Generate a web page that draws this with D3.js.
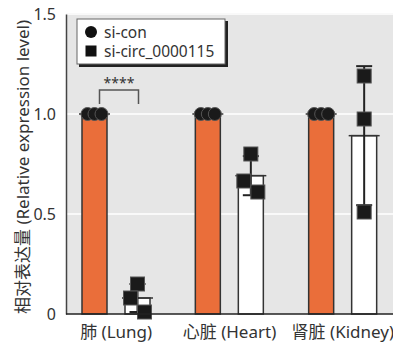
<!DOCTYPE html>
<html>
<head>
<meta charset="utf-8">
<script src="https://cdn.jsdelivr.net/npm/d3@7"></script>
<style>
  body { margin: 0; background: #fff; }
  text { font-family: "Noto Sans", "Noto Sans CJK SC", sans-serif; fill: #333; }
</style>
</head>
<body>
<div id="chart"></div>
<script>
var organs = ["肺 (Lung)", "心脏 (Heart)", "肾脏 (Kidney)"];
var series = ["si-con", "si-circ_0000115"];
var conValues = [[1, 1, 1], [1, 1, 1], [1, 1, 1]];
var circValues = [[0.15, 0.08, 0.01], [0.80, 0.665, 0.61], [1.19, 0.975, 0.51]];
var yTicks = [0, 0.5, 1.0, 1.5];
var sigLabel = "****";

var W = 393, H = 348;
var margin = { top: 14, right: 0, bottom: 34, left: 66 };

var svg = d3.select("#chart")
  .append("svg")
  .attr("width", W)
  .attr("height", H);

var y = d3.scaleLinear().domain([0, 1.5]).range([H - margin.bottom, margin.top]);
var x0 = d3.scaleBand().domain(organs).range([59.5, 399.5]);
var x1 = d3.scalePoint().domain(series).range([35, 78]);
var barW = 25;

// gray panel
svg.append("rect")
  .attr("x", margin.left)
  .attr("y", y(1.5) - 1)
  .attr("width", W - margin.left)
  .attr("height", y(0) - y(1.5) + 1)
  .attr("fill", "#e6e6e6");

// white gridlines
svg.selectAll(".grid")
  .data(yTicks.filter(d => d > 0))
  .enter()
  .append("line")
  .attr("x1", margin.left)
  .attr("x2", W)
  .attr("y1", d => y(d))
  .attr("y2", d => y(d))
  .attr("stroke", "#fff")
  .attr("stroke-width", 1.5);

function mean(a) { return d3.mean(a); }
function sd(a) { return d3.deviation(a) || 0; }

var groups = organs.map(function (o, i) {
  return [
    { organ: o, s: series[0], vals: conValues[i] },
    { organ: o, s: series[1], vals: circValues[i] }
  ];
}).flat();

// bars
svg.selectAll(".bar")
  .data(groups)
  .enter()
  .append("rect")
  .attr("x", d => x0(d.organ) + x1(d.s) - barW / 2)
  .attr("y", d => y(mean(d.vals)))
  .attr("width", barW)
  .attr("height", d => y(0) - y(mean(d.vals)))
  .attr("fill", d => d.s === series[0] ? "#ea6e3a" : "#fff")
  .attr("stroke", "#333")
  .attr("stroke-width", 1.5);

// mean lines
svg.selectAll(".meanline")
  .data(groups)
  .enter()
  .append("line")
  .attr("x1", d => x0(d.organ) + x1(d.s) - barW / 2 - 3)
  .attr("x2", d => x0(d.organ) + x1(d.s) + barW / 2 + 3)
  .attr("y1", d => y(mean(d.vals)))
  .attr("y2", d => y(mean(d.vals)))
  .attr("stroke", "#333")
  .attr("stroke-width", 1.5);

// error bars (mean ± SD)
var eb = svg.selectAll(".err")
  .data(groups.filter(d => sd(d.vals) > 0))
  .enter()
  .append("g")
  .attr("transform", d => "translate(" + (x0(d.organ) + x1(d.s)) + ",0)");

eb.append("line")
  .attr("y1", d => y(mean(d.vals) - sd(d.vals)))
  .attr("y2", d => y(mean(d.vals) + sd(d.vals)))
  .attr("stroke", "#222")
  .attr("stroke-width", 2);

eb.selectAll(".cap")
  .data(d => [mean(d.vals) - sd(d.vals), mean(d.vals) + sd(d.vals)])
  .enter()
  .append("line")
  .attr("x1", -8)
  .attr("x2", 8)
  .attr("y1", v => y(v))
  .attr("y2", v => y(v))
  .attr("stroke", "#222")
  .attr("stroke-width", 2);

// points: spread sideways when they sit close together
var pts = [];
groups.forEach(function (d) {
  var order = d.vals.map((v, i) => i).sort((a, b) => d.vals[b] - d.vals[a]);
  var spread = y(d3.min(d.vals)) - y(d3.max(d.vals));
  var dodge = d.s === series[0] ? [-7, 0, 7] : [0, -7, 7];
  order.forEach(function (idx, k) {
    pts.push({
      organ: d.organ, s: d.s, v: d.vals[idx],
      dx: spread < 60 ? dodge[k] : 0
    });
  });
});

svg.selectAll(".circ")
  .data(pts.filter(p => p.s === series[0]))
  .enter()
  .append("circle")
  .attr("cx", p => x0(p.organ) + x1(p.s) + p.dx)
  .attr("cy", p => y(p.v))
  .attr("r", 6.5)
  .attr("fill", "#1a1a1a")
  .attr("stroke", "#555")
  .attr("stroke-width", 1);

svg.selectAll(".sq")
  .data(pts.filter(p => p.s === series[1]))
  .enter()
  .append("rect")
  .attr("x", p => x0(p.organ) + x1(p.s) + p.dx - 7)
  .attr("y", p => y(p.v) - 7)
  .attr("width", 14)
  .attr("height", 14)
  .attr("fill", "#1a1a1a")
  .attr("stroke", "#555")
  .attr("stroke-width", 1);

// axes
var yAxis = svg.append("g")
  .attr("transform", "translate(" + margin.left + ",0)")
  .call(d3.axisLeft(y).tickValues(yTicks).tickSize(0).tickPadding(10)
    .tickFormat(d => d === 0 ? "0" : d3.format(".1f")(d)));
yAxis.select(".domain").attr("stroke", "#444").attr("stroke-width", 1.5);
yAxis.selectAll("text").style("font-size", "16px").attr("fill", "#333");

svg.append("line")
  .attr("x1", margin.left)
  .attr("x2", W)
  .attr("y1", y(0))
  .attr("y2", y(0))
  .attr("stroke", "#222")
  .attr("stroke-width", 1.5);

svg.selectAll(".xlab")
  .data(organs)
  .enter()
  .append("text")
  .attr("x", d => x0(d) + x0.bandwidth() / 2)
  .attr("y", y(0) + 24)
  .attr("text-anchor", "middle")
  .style("font-size", "17px")
  .text(d => d);

svg.append("text")
  .attr("transform", "translate(29,167) rotate(-90)")
  .attr("text-anchor", "middle")
  .style("font-size", "17px")
  .text("相对表达量 (Relative expression level)");

// significance bracket
var bx1 = x0(organs[0]) + x1(series[0]) + 5;
var bx2 = x0(organs[0]) + x1(series[1]) + 1;
var by = y(1.12);
svg.append("path")
  .attr("d", "M" + bx1 + "," + (by + 14) + "V" + by + "H" + bx2 + "V" + (by + 14))
  .attr("fill", "none")
  .attr("stroke", "#555")
  .attr("stroke-width", 1.5);
svg.append("text")
  .attr("x", (bx1 + bx2) / 2)
  .attr("y", by - 2)
  .attr("text-anchor", "middle")
  .style("font-size", "14px")
  .attr("fill", "#555")
  .text(sigLabel);

// legend
var lg = svg.append("g").attr("transform", "translate(77,19)");
lg.append("rect")
  .attr("x", 2).attr("y", 2)
  .attr("width", 149).attr("height", 46)
  .attr("fill", "#222");
lg.append("rect")
  .attr("width", 148).attr("height", 45)
  .attr("fill", "#fff")
  .attr("stroke", "#666")
  .attr("stroke-width", 1);
lg.append("circle")
  .attr("cx", 14).attr("cy", 13).attr("r", 6)
  .attr("fill", "#111");
lg.append("rect")
  .attr("x", 8.5).attr("y", 26.5).attr("width", 11).attr("height", 11)
  .attr("fill", "#111");
lg.selectAll(".lt")
  .data(series)
  .enter()
  .append("text")
  .attr("x", 27)
  .attr("y", (d, i) => 18.5 + i * 19.5)
  .style("font-size", "15.5px")
  .attr("fill", "#222")
  .text(d => d);
</script>
</body>
</html>
